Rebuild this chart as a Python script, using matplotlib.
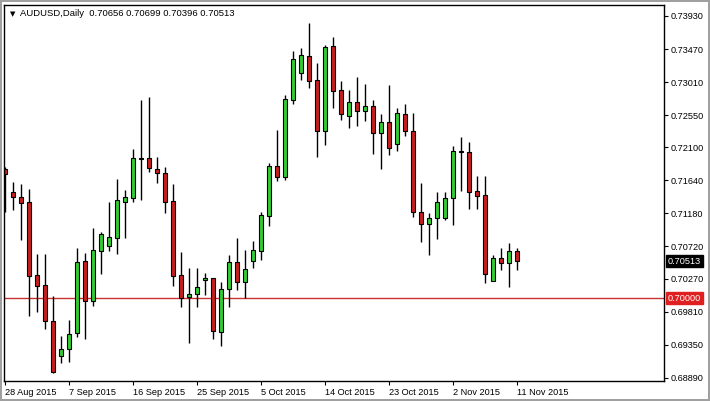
import numpy as np
import matplotlib
matplotlib.use("Agg")
import matplotlib.pyplot as plt

# AUDUSD daily candles, 28 Aug 2015 .. 11 Nov 2015 (MT4 style, Sunday bars included)
opens = [0.71798, 0.71474, 0.71408, 0.71339, 0.70321, 0.70182, 0.69681, 0.69197, 0.69286, 0.69509,
         0.70512, 0.69963, 0.70660, 0.70730, 0.70841, 0.71343, 0.71398, 0.71945, 0.71947, 0.71798,
         0.71738, 0.71352, 0.70317, 0.70019, 0.70053, 0.70248, 0.70275, 0.69531, 0.70126, 0.70498,
         0.70228, 0.70521, 0.70660, 0.71144, 0.71840, 0.71691, 0.72760, 0.73140, 0.73373, 0.73038,
         0.72332, 0.73512, 0.72899, 0.72541, 0.72728, 0.72611, 0.72676, 0.72304, 0.72449, 0.72143,
         0.72560, 0.72328, 0.71195, 0.71028, 0.71111, 0.71120, 0.71390, 0.72049, 0.72031, 0.71492,
         0.71436, 0.70242, 0.70554, 0.70484, 0.70656]
highs = [0.71830, 0.71621, 0.71589, 0.71520, 0.70614, 0.70614, 0.70033, 0.69472, 0.69694, 0.70698,
         0.70632, 0.70976, 0.70916, 0.71343, 0.71659, 0.71506, 0.72077, 0.72764, 0.72806, 0.71970,
         0.71822, 0.71589, 0.70638, 0.70423, 0.70423, 0.70354, 0.70280, 0.70220, 0.70600, 0.70841,
         0.70670, 0.70799, 0.71199, 0.71878, 0.72342, 0.72829, 0.73447, 0.73480, 0.73837, 0.73271,
         0.73526, 0.73642, 0.73024, 0.72899, 0.73084, 0.72983, 0.72760, 0.72565, 0.72969, 0.72652,
         0.72704, 0.72574, 0.71599, 0.71181, 0.71474, 0.71474, 0.72119, 0.72248, 0.72170, 0.71701,
         0.71701, 0.70600, 0.70693, 0.70771, 0.70699]
lows = [0.71195, 0.71227, 0.70809, 0.69754, 0.69810, 0.69569, 0.68960, 0.69091, 0.69113, 0.69453,
        0.69430, 0.69894, 0.70335, 0.70660, 0.70614, 0.70833, 0.71343, 0.71366, 0.71752, 0.71607,
        0.71189, 0.70168, 0.69871, 0.69370, 0.69880, 0.70043, 0.69430, 0.69336, 0.69871, 0.70112,
        0.70005, 0.70415, 0.70530, 0.71008, 0.71631, 0.71645, 0.72704, 0.73038, 0.72931, 0.71970,
        0.72133, 0.72652, 0.72481, 0.72374, 0.72397, 0.72471, 0.72007, 0.71798, 0.71993, 0.72053,
        0.72262, 0.71134, 0.70785, 0.70600, 0.70823, 0.71088, 0.71018, 0.71492, 0.71241, 0.71241,
        0.70214, 0.70240, 0.70391, 0.70150, 0.70396]
closes = [0.71724, 0.71412, 0.71320, 0.70312, 0.70172, 0.69685, 0.68974, 0.69290, 0.69499, 0.70498,
          0.69963, 0.70670, 0.70893, 0.70847, 0.71366, 0.71404, 0.71947, 0.71940, 0.71808, 0.71738,
          0.71343, 0.70312, 0.70005, 0.70057, 0.70150, 0.70280, 0.69545, 0.70126, 0.70498, 0.70228,
          0.70405, 0.70670, 0.71157, 0.71840, 0.71691, 0.72774, 0.73331, 0.73387, 0.73029, 0.72332,
          0.73494, 0.72889, 0.72560, 0.72728, 0.72611, 0.72676, 0.72304, 0.72449, 0.72087, 0.72574,
          0.72332, 0.71195, 0.71028, 0.71111, 0.71334, 0.71390, 0.72049, 0.72035, 0.71482, 0.71426,
          0.70331, 0.70554, 0.70493, 0.70656, 0.70513]

date_labels = ["28 Aug 2015", "7 Sep 2015", "16 Sep 2015", "25 Sep 2015", "5 Oct 2015",
               "14 Oct 2015", "23 Oct 2015", "2 Nov 2015", "11 Nov 2015"]
price_ticks = [0.73930, 0.73470, 0.73010, 0.72550, 0.72100, 0.71640, 0.71180,
               0.70720, 0.70270, 0.69810, 0.69350, 0.68890]
level = 0.70000
symbol = "AUDUSD,Daily"

fig = plt.figure(figsize=(7.10, 4.01), dpi=100)
fig.patch.set_edgecolor("#a0a0a0")
fig.patch.set_linewidth(1.5)
ax = fig.add_axes([4 / 710, 20 / 401, 660 / 710, 376 / 401])

o = np.array(opens)
h = np.array(highs)
l = np.array(lows)
c = np.array(closes)
x = np.arange(len(o))
up = c >= o

ax.vlines(x, l, h, color="black", lw=1.0, zorder=1)
bottom = np.minimum(o, c)
height = np.maximum(np.abs(c - o), 0.00002)
ax.bar(x[up], height[up], bottom=bottom[up], width=0.55, color="#32cd32",
       edgecolor="black", linewidth=0.8, zorder=2)
ax.bar(x[~up], height[~up], bottom=bottom[~up], width=0.55, color="#c81e1e",
       edgecolor="black", linewidth=0.8, zorder=2)

ax.axhline(level, color="#c83232", lw=1.0, zorder=0)

ax.set_xlim(-0.125, 82.375)
ax.set_ylim(0.68845, 0.74083)

for s in ax.spines.values():
    s.set_color("black")
    s.set_linewidth(1.0)

font = "Liberation Sans"
ax.yaxis.tick_right()
ax.set_yticks(price_ticks)
ax.set_yticklabels([f"{p:.5f}" for p in price_ticks], fontsize=6.6, family=font)
ax.tick_params(axis="y", direction="out", length=3, pad=2, width=0.8)

ax.set_xticks(x[::8])
ax.set_xticklabels(date_labels, fontsize=6.6, family=font, ha="left")
ax.tick_params(axis="x", direction="out", length=3, pad=2, width=0.8)
for t in ax.get_xticklabels():
    t.set_x(t.get_position()[0])

# current price and level boxes on the price scale
ax.text(1.006, closes[-1], f"{closes[-1]:.5f}", transform=ax.get_yaxis_transform(),
        ha="left", va="center", fontsize=6.6, family=font, color="white",
        bbox=dict(boxstyle="square,pad=0.18", fc="black", ec="black"))
ax.text(1.006, level, f"{level:.5f}", transform=ax.get_yaxis_transform(),
        ha="left", va="center", fontsize=6.6, family=font, color="white",
        bbox=dict(boxstyle="square,pad=0.18", fc="#e02020", ec="#e02020"))

header = f"{symbol}  {opens[-1]:.5f} {highs[-1]:.5f} {lows[-1]:.5f} {closes[-1]:.5f}"
ax.text(0.009, 0.977, "\u25bc", transform=ax.transAxes, fontsize=5, family="DejaVu Sans",
        ha="left", va="center")
ax.text(0.025, 0.977, header, transform=ax.transAxes, fontsize=6.8, family=font,
        ha="left", va="center")

fig.savefig("out.png", dpi=100)
